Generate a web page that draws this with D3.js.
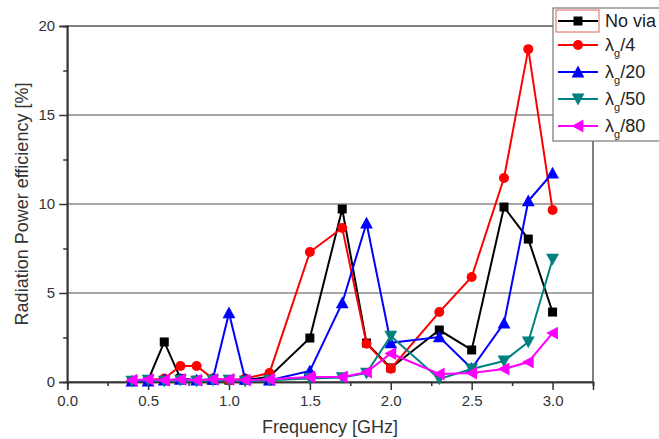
<!DOCTYPE html>
<html><head><meta charset="utf-8">
<script src="https://cdn.jsdelivr.net/npm/d3@7"></script>
<style>body{margin:0;background:#fff}svg{display:block;font-family:Arial,"Liberation Sans",sans-serif}</style>
</head><body><svg id="c" width="659" height="439"></svg>
<script>
const freq = [0.4,0.5,0.6,0.7,0.8,0.9,1.0,1.1,1.25,1.5,1.7,1.85,2.0,2.3,2.5,2.7,2.85,3.0];
const noVia  = [0.05,0.1,2.25,0.2,0.1,0.1,0.1,0.1,0.3,2.47,9.72,2.19,0.79,2.92,1.8,9.83,8.03,3.93];
const lg4    = [0.05,0.1,0.2,0.9,0.9,0.2,0.1,0.2,0.5,7.3,8.65,2.15,0.75,3.93,5.9,11.46,18.7,9.66];
const lg20   = [0.05,0.05,0.1,0.15,0.1,0.15,3.88,0.15,0.1,0.62,4.44,8.93,2.2,2.53,0.76,3.31,10.17,11.74];
const lg50   = [0.05,0.1,0.05,0.1,0.05,0.1,0.1,0.05,0.1,0.2,0.25,0.5,2.58,0.17,0.73,1.18,2.25,6.9];
const lg80   = [0.1,0.15,0.1,0.15,0.1,0.15,0.15,0.1,0.15,0.28,0.28,0.55,1.6,0.45,0.5,0.73,1.12,2.75];
const seriesNames = ["No via","4","20","50","80"];
const seriesColors = ["#000000","#ff0000","#0000ff","#008080","#ff00ff"];
const seriesShapes = ["square","circle","up","down","left"];
const xTicks = [0,0.5,1.0,1.5,2.0,2.5,3.0];
const yTicks = [0,5,10,15,20];

const svg = d3.select("#c");
const L=67.2, R=593, T=26, B=382;
const x = d3.scaleLinear().domain([0,3.25]).range([L,R]);
const y = d3.scaleLinear().domain([0,20]).range([B,T]);
const axisCol="#333";

// gridlines
svg.append("g").selectAll("line").data([5,10,15]).join("line")
  .attr("x1",L).attr("x2",R).attr("y1",d=>y(d)).attr("y2",d=>y(d))
  .attr("stroke","#8a8a8a").attr("stroke-width",1.5);

// frame
svg.append("rect").attr("x",L).attr("y",T).attr("width",R-L).attr("height",B-T)
  .attr("fill","none").attr("stroke","#555").attr("stroke-width",1.5);

// axes
const xa = svg.append("g").attr("transform",`translate(0,${B})`)
  .call(d3.axisBottom(x).tickValues(xTicks).tickFormat(d3.format(".1f")).tickSize(8).tickPadding(5));
const xm = svg.append("g").attr("transform",`translate(0,${B})`)
  .call(d3.axisBottom(x).tickValues(d3.range(0.25,3.26,0.5)).tickFormat("").tickSize(4));
const ya = svg.append("g").attr("transform",`translate(${L},0)`)
  .call(d3.axisLeft(y).tickValues(yTicks).tickSize(8).tickPadding(4));
const ym = svg.append("g").attr("transform",`translate(${L},0)`)
  .call(d3.axisLeft(y).tickValues([2.5,7.5,12.5,17.5]).tickFormat("").tickSize(4));
[xa,xm,ya,ym].forEach(g=>{
  g.select(".domain").attr("stroke",axisCol).attr("stroke-width",1.5);
  g.selectAll(".tick line").attr("stroke",axisCol).attr("stroke-width",1.5);
  g.selectAll("text").attr("fill","#333").attr("font-size",15).attr("font-family","Arial, 'Liberation Sans', sans-serif");
});

// titles
svg.append("text").attr("x",(L+R)/2).attr("y",433).attr("text-anchor","middle")
  .attr("font-size",18).attr("fill","#333").text("Frequency [GHz]");
svg.append("text").attr("transform",`translate(28,${(T+B)/2}) rotate(-90)`).attr("text-anchor","middle")
  .attr("font-size",18).attr("fill","#333").text("Radiation Power efficiency [%]");

// markers
function marker(sel, shape, color, size){
  const s=size;
  if(shape==="square") sel.append("rect").attr("x",-s/2).attr("y",-s/2).attr("width",s).attr("height",s).attr("fill",color);
  else if(shape==="circle") sel.append("circle").attr("r",s/2+0.5).attr("fill",color);
  else {
    let pts;
    const h=s*0.6;
    if(shape==="up") pts=[[0,-h-1],[h+1,h],[-h-1,h]];
    else if(shape==="down") pts=[[0,h+1],[h+1,-h],[-h-1,-h]];
    else pts=[[-h-1,0],[h,-h-1],[h,h+1]];
    sel.append("polygon").attr("points",pts.map(p=>p.join(",")).join(" ")).attr("fill",color);
  }
}

const allVals=[noVia,lg4,lg20,lg50,lg80];
const line=d3.line().x(d=>x(d[0])).y(d=>y(d[1]));
allVals.forEach((vals,i)=>{
  const pts=freq.map((f,j)=>[f,vals[j]]);
  const g=svg.append("g");
  g.append("path").attr("d",line(pts)).attr("fill","none").attr("stroke",seriesColors[i]).attr("stroke-width",2);
  g.selectAll("g").data(pts).join("g").attr("transform",d=>`translate(${x(d[0])},${y(d[1])})`)
    .each(function(){marker(d3.select(this),seriesShapes[i],seriesColors[i],9);});
});

// legend
const lg=svg.append("g");
lg.append("rect").attr("x",553).attr("y",8).attr("width",110).attr("height",133)
  .attr("fill","#fff").attr("stroke","#777").attr("stroke-width",1.2);
const rowY=[21,45,72,99,126];
lg.append("rect").attr("x",556).attr("y",10).attr("width",43).attr("height",22)
  .attr("fill","none").attr("stroke","#e06060").attr("stroke-width",1);
seriesNames.forEach((n,i)=>{
  const yy=rowY[i];
  lg.append("line").attr("x1",558).attr("x2",598).attr("y1",yy).attr("y2",yy)
    .attr("stroke",seriesColors[i]).attr("stroke-width",2);
  marker(lg.append("g").attr("transform",`translate(578,${yy})`),seriesShapes[i],seriesColors[i],9);
  const t=lg.append("text").attr("x",605).attr("y",yy+6).attr("font-size",18).attr("fill","#222");
  if(i===0) t.text(n);
  else {
    t.append("tspan").text("λ");
    t.append("tspan").attr("font-size",11).attr("dy",6).text("g");
    t.append("tspan").attr("dy",-6).text("/"+n);
  }
});
</script></body></html>
